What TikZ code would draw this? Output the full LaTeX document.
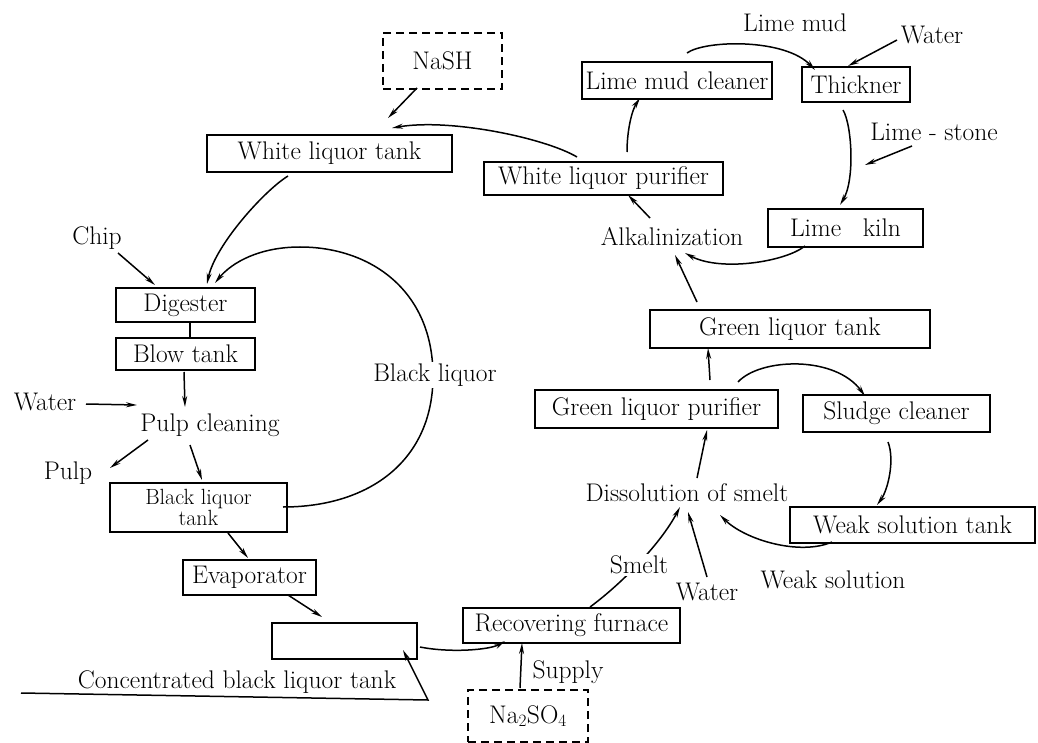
\documentclass[tikz,border=0pt]{standalone}
\usetikzlibrary{arrows.meta}
\begin{document}
\begin{tikzpicture}[x=1pt,y=-1pt,
  every node/.style={font=\fontsize{25.5}{28}\selectfont, inner sep=0pt, outer sep=0pt},
  bx/.style 2 args={draw, line width=1.3pt, minimum width=#1pt, minimum height=#2pt},
  dbx/.style 2 args={bx={#1}{#2}, dash pattern=on 8pt off 5pt, line width=1.6pt},
  flow/.style={line width=1.5pt, -{Stealth[length=11pt,width=5pt]}},
  link/.style={line width=1.5pt},
  lbl/.style={fill=white, inner sep=2pt}]
\useasboundingbox (0,0) rectangle (1038,743);

% boxes
\node[dbx={119}{56}] (nash) at (442.5,61) {NaSH};
\node[bx={245}{37}] (wlt) at (329.5,153.5) {White liquor tank};
\node[bx={239}{33}] (wlp) at (603.5,178.5) {White liquor purifier};
\node[bx={190}{37}] (lmc) at (677,80.5) {Lime mud cleaner};
\node[bx={108}{35}] (thick) at (856,84.5) {Thickner};
\node[bx={155}{38}] (kiln) at (845.5,228) {Lime\hspace{14pt} kiln\hspace{20pt}};
\node[bx={280}{38}] (glt) at (790,329) {Green liquor tank};
\node[bx={243}{38}] (glp) at (656.5,409) {Green liquor purifier};
\node[bx={187}{37}] (sc) at (896.5,413.5) {Sludge cleaner};
\node[bx={245}{36}] (wst) at (912.5,525) {Weak solution tank};
\node[bx={217}{35}] (rf) at (571.5,625.5) {Recovering furnace};
\node[dbx={120}{52}] (na2) at (528,716) {Na$_2$SO$_4$};
\node[bx={145}{36}] (conc) at (344.5,641) {};
\node[bx={133}{35}] (evap) at (249.5,577.5) {Evaporator};
\node[bx={177}{49}, align=center, font=\fontsize{22}{19}\selectfont] (blt) at (198.5,507.5) {Black liquor\\tank};
\node[bx={139}{32}] (blow) at (185.5,354) {Blow tank};
\node[bx={139}{34}] (dig) at (185.5,305) {Digester};

% plain labels
\node (chip) at (97,238) {Chip};
\node (waterA) at (45,402) {Water};
\node (pulpc) at (210,425) {Pulp cleaning};
\node (pulp) at (68,473) {Pulp};
\node (concl) at (237,682) {Concentrated black liquor tank};
\node (limemud) at (795,23) {Lime mud};
\node (waterB) at (932,35) {Water};
\node (limestone) at (934,132) {Lime - stone};
\node (alk) at (672,237) {Alkalinization};
\node (diss) at (687,493) {Dissolution of smelt};
\node (waterC) at (707,592) {Water};
\node (weaksol) at (833,580) {Weak solution};
\node (supply) at (568,672) {Supply};

% connectors
\draw[flow] ([shift={(-25.5,27)}]nash.center) -- ([shift={(58.5,-35.5)}]wlt.center);
\draw[flow] ([shift={(-26.5,-21.5)}]wlp.center) .. controls (545,138) and (450,118) .. ([shift={(62.5,-25.5)}]wlt.center);
\draw[flow] ([shift={(-41.5,22.5)}]wlt.center) .. controls (265,190) and (215,245) .. ([shift={(21.5,-21)}]dig.center);
\draw[flow] ([shift={(21,15)}]chip.center) -- ([shift={(-30.5,-20)}]dig.center);
\draw[flow] ([shift={(84.5,-0.5)}]blt.center) .. controls (370,507) and (433,460) .. (433,376)
   .. controls (433,290) and (370,247) .. (300,247)
   .. controls (260,247) and (232,262) .. ([shift={(29.5,-22)}]dig.center);
\draw[link] ([shift={(4.5,17)}]dig.center) -- ([shift={(4.5,-16)}]blow.center);
\draw[flow] ([shift={(-1.5,18)}]blow.center) -- ([shift={(-25,-18)}]pulpc.center);
\draw[flow] ([shift={(41,2)}]waterA.center) -- ([shift={(-73,-20)}]pulpc.center);
\draw[flow] ([shift={(-62,15)}]pulpc.center) -- ([shift={(42,-5)}]pulp.center);
\draw[flow] ([shift={(-20,20)}]pulpc.center) -- ([shift={(3.5,-27.5)}]blt.center);
\draw[flow] ([shift={(29.5,25.5)}]blt.center) -- ([shift={(-1.5,-19.5)}]evap.center);
\draw[flow] ([shift={(38.5,17.5)}]evap.center) -- ([shift={(-22.5,-24)}]conc.center);
\draw[flow] ([shift={(-216,11)}]concl.center) -- ([shift={(191,18)}]concl.center) -- ([shift={(58.5,9)}]conc.center);
\draw[flow] ([shift={(75.5,6)}]conc.center) .. controls (450,653) and (490,650) .. ([shift={(-66.5,15.5)}]rf.center);
\draw[flow] ([shift={(-8,-28)}]na2.center) -- ([shift={(-49.5,17.5)}]rf.center);
\draw[flow] ([shift={(18.5,-18.5)}]rf.center) .. controls (620,585) and (660,545) .. ([shift={(-7,14)}]diss.center);
\draw[flow] ([shift={(0,-15)}]waterC.center) -- ([shift={(1,19)}]diss.center);
\draw[flow] ([shift={(-80.5,17)}]wst.center) .. controls (800,556) and (745,540) .. ([shift={(33,22)}]diss.center);
\draw[flow] ([shift={(10,-15)}]diss.center) -- ([shift={(50.5,21)}]glp.center);
\draw[flow] ([shift={(53.5,-29)}]glp.center) -- ([shift={(-82,19)}]glt.center);
\draw[flow] ([shift={(81.5,-27)}]glp.center) .. controls (760,358) and (835,355) .. ([shift={(-31.5,-17.5)}]sc.center);
\draw[flow] ([shift={(-8.5,28.5)}]sc.center) .. controls (895,460) and (888,490) .. ([shift={(-35.5,-20)}]wst.center);
\draw[flow] ([shift={(-93,-27)}]glt.center) -- ([shift={(3,18)}]alk.center);
\draw[flow] ([shift={(-40.5,18)}]kiln.center) .. controls (785,262) and (720,272) .. ([shift={(13,16)}]alk.center);
\draw[flow] ([shift={(-22,-19)}]alk.center) -- ([shift={(24.5,16.5)}]wlp.center);
\draw[flow] ([shift={(23.5,-26.5)}]wlp.center) .. controls (627,130) and (632,110) .. ([shift={(-37,17.5)}]lmc.center);
\draw[flow] ([shift={(10,-27.5)}]lmc.center) .. controls (705,40) and (785,38) .. ([shift={(-41,-14.5)}]thick.center);
\draw[flow] ([shift={(-35,5)}]waterB.center) -- ([shift={(-8,-18.5)}]thick.center);
\draw[flow] ([shift={(-13,25.5)}]thick.center) .. controls (852,125) and (855,180) .. ([shift={(-5.5,-23)}]kiln.center);
\draw[flow] ([shift={(-22,14)}]limestone.center) -- ([shift={(19.5,-63)}]kiln.center);

% labels sitting on connectors
\node[lbl] (blq) at (435,375) {Black liquor};
\node[lbl] (smelt) at (639,565) {Smelt};
\end{tikzpicture}
\end{document}
